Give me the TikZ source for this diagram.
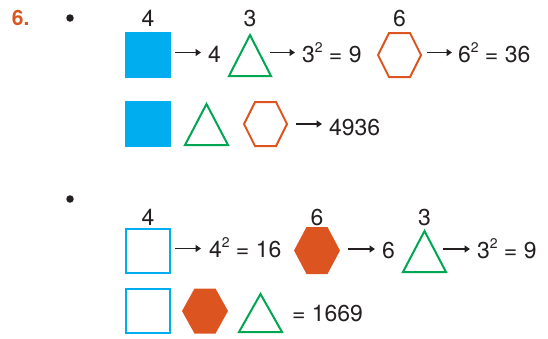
\documentclass[tikz,border=0pt]{standalone}
\usepackage{fontspec}
\setmainfont{TeX Gyre Heros}
\usetikzlibrary{arrows.meta}
\definecolor{cyanb}{HTML}{00AEEF}
\definecolor{greent}{HTML}{00A651}
\definecolor{orangeh}{HTML}{DC5520}
\definecolor{ink}{HTML}{231F20}
\newcommand{\sqtwo}{\raisebox{10pt}{\fontsize{14}{14}\selectfont 2}}
\begin{document}
\begin{tikzpicture}[x=1pt,y=-1pt,
  font=\fontsize{23}{27}\selectfont, text=ink,
  txt/.style={anchor=base west, inner sep=0pt, outer sep=0pt},
  lbl/.style={anchor=base, inner sep=0pt, outer sep=0pt},
  shapebox/.style 2 args={inner sep=0pt, outer sep=0pt, minimum width=#1, minimum height=#2},
  arr/.style={-{Triangle[length=5.5pt,width=7pt]}, line width=1.3pt, draw=ink},
  sqfill/.style={fill=cyanb},
  sqline/.style={draw=cyanb, line width=2pt},
  triline/.style={draw=greent, line width=2pt},
  hexline/.style={draw=orangeh, line width=2pt},
  hexfill/.style={fill=orangeh},
  dot/.style={circle, fill=ink, inner sep=0pt, minimum size=7.5pt}
]
\useasboundingbox (0,0) rectangle (548,338);

% number and bullets
\node[txt, text=orangeh, font=\fontsize{21}{24}\selectfont\bfseries] (num) at (12,25) {6.};
\node[dot] (b1) at (70,18) {};
\node[dot] (b2) at (70,199) {};

% ---------- Row 1 ----------
\node[shapebox={46pt}{46pt}] (s1) at (148,55) {};
\fill[sqfill] (s1.south west) rectangle (s1.north east);
\node[lbl] (s1l) at (148,26) {4};

\node[shapebox={42pt}{41pt}] (t1) at (250,55.5) {};
\draw[triline] (t1.south west) -- (t1.north) -- (t1.south east) -- cycle;
\node[lbl] (t1l) at (250,26) {3};

\node[shapebox={43pt}{44pt}] (h1) at (399.5,55) {};
\draw[hexline] (h1.west) -- ([xshift=11pt]h1.north west) -- ([xshift=-11pt]h1.north east)
  -- (h1.east) -- ([xshift=-11pt]h1.south east) -- ([xshift=11pt]h1.south west) -- cycle;
\node[lbl] (h1l) at (399.5,26) {6};

\coordinate (a1s) at (175,52.5); \coordinate (a1e) at (201,52.5);
\draw[arr] (a1s) -- (a1e);
\node[txt] (r1a) at (208,62) {4};
\coordinate (a2s) at (270,52.5); \coordinate (a2e) at (295,52.5);
\draw[arr] (a2s) -- (a2e);
\node[txt] (r1b) at (302,62) {3\sqtwo{} = 9};
\coordinate (a3s) at (427,52.5); \coordinate (a3e) at (452,52.5);
\draw[arr] (a3s) -- (a3e);
\node[txt] (r1c) at (458,62) {6\sqtwo{} = 36};

% ---------- Row 2 ----------
\node[shapebox={46pt}{46pt}] (s2) at (148,124) {};
\fill[sqfill] (s2.south west) rectangle (s2.north east);

\node[shapebox={43pt}{41pt}] (t2) at (206.5,124.5) {};
\draw[triline] (t2.south west) -- (t2.north) -- (t2.south east) -- cycle;

\node[shapebox={43pt}{44pt}] (h2) at (265.5,124) {};
\draw[hexline] (h2.west) -- ([xshift=11pt]h2.north west) -- ([xshift=-11pt]h2.north east)
  -- (h2.east) -- ([xshift=-11pt]h2.south east) -- ([xshift=11pt]h2.south west) -- cycle;

\coordinate (a4s) at (296,124); \coordinate (a4e) at (322,124);
\draw[arr] (a4s) -- (a4e);
\node[txt] (r2) at (329,135) {4936};

% ---------- Row 3 ----------
\node[shapebox={44pt}{44pt}] (s3) at (148,251) {};
\draw[sqline] (s3.south west) rectangle (s3.north east);
\node[lbl] (s3l) at (148,225) {4};

\node[shapebox={46pt}{47pt}] (h3) at (317,250.5) {};
\fill[hexfill] (h3.west) -- ([xshift=12.5pt]h3.north west) -- ([xshift=-12.5pt]h3.north east)
  -- (h3.east) -- ([xshift=-12.5pt]h3.south east) -- ([xshift=12.5pt]h3.south west) -- cycle;
\node[lbl] (h3l) at (317,225) {6};

\node[shapebox={43pt}{41pt}] (t3) at (424.5,251.5) {};
\draw[triline] (t3.south west) -- (t3.north) -- (t3.south east) -- cycle;
\node[lbl] (t3l) at (424.5,225) {3};

\coordinate (a5s) at (175,248.5); \coordinate (a5e) at (201,248.5);
\draw[arr] (a5s) -- (a5e);
\node[txt] (r3a) at (209,257) {4\sqtwo{} = 16};
\coordinate (a6s) at (348,249); \coordinate (a6e) at (375,249);
\draw[arr] (a6s) -- (a6e);
\node[txt] (r3b) at (382,258) {6};
\coordinate (a7s) at (443,249); \coordinate (a7e) at (470,249);
\draw[arr] (a7s) -- (a7e);
\node[txt] (r3c) at (477,258) {3\sqtwo{} = 9};

% ---------- Row 4 ----------
\node[shapebox={44pt}{44pt}] (s4) at (148,311) {};
\draw[sqline] (s4.south west) rectangle (s4.north east);

\node[shapebox={46pt}{45pt}] (h4) at (205,311) {};
\fill[hexfill] (h4.west) -- ([xshift=12.5pt]h4.north west) -- ([xshift=-12.5pt]h4.north east)
  -- (h4.east) -- ([xshift=-12.5pt]h4.south east) -- ([xshift=12.5pt]h4.south west) -- cycle;

\node[shapebox={43pt}{38pt}] (t4) at (260.5,313) {};
\draw[triline] (t4.south west) -- (t4.north) -- (t4.south east) -- cycle;

\node[txt] (r4) at (292,321) {= 1669};
\end{tikzpicture}
\end{document}
